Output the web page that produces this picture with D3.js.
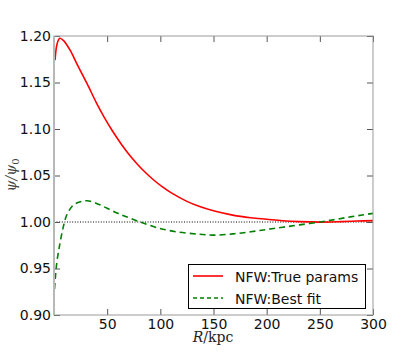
<!DOCTYPE html>
<html><head><meta charset="utf-8">
<script src="https://cdn.jsdelivr.net/npm/d3@7"></script>
<style>body{margin:0;background:#fff}svg{display:block}</style>
</head><body>
<svg id="c" width="415" height="363"></svg>
<script>
// ---- data ----
const rTrue = [1, 3, 5.5, 9, 15, 22, 31, 40, 47, 55, 63, 70, 78, 86, 94, 102, 110, 125, 137, 150, 168, 185, 200, 215, 231, 250, 270, 285, 300];
const psiTrue = [1.174, 1.192, 1.1975, 1.195, 1.185, 1.169, 1.149, 1.1279, 1.1131, 1.0978, 1.0842, 1.0735, 1.0627, 1.0532, 1.0449, 1.0377, 1.0316, 1.0222, 1.0166, 1.012, 1.0074, 1.0046, 1.003, 1.0014, 1.0004, 0.9999, 1.0004, 1.001, 1.0015];
const rFit = [0.5, 2.5, 5.6, 8.8, 12, 18, 24, 31, 40, 50, 60, 68, 81, 97, 115, 137, 150, 168, 185, 200, 215, 231, 250, 265, 278, 290, 300];
const psiFit = [0.928, 0.955, 0.977, 0.995, 1.0075, 1.018, 1.0215, 1.0229, 1.020, 1.0147, 1.0093, 1.0057, 1.0, 0.9939, 0.9895, 0.9868, 0.9859, 0.9872, 0.9895, 0.9919, 0.9944, 0.9969, 1.0, 1.0028, 1.0054, 1.0075, 1.0093];
const refLevel = [1.0];
const xTicks = [50, 100, 150, 200, 250, 300];
const yTicks = [0.90, 0.95, 1.00, 1.05, 1.10, 1.15, 1.20];
const legendLabels = ["NFW:True params", "NFW:Best fit"];

// ---- layout ----
const L = 54, R = 373, T = 36, B = 315;
const svg = d3.select("#c");
const x = d3.scaleLinear().domain([0, 300]).range([L, R]);
const y = d3.scaleLinear().domain([0.9, 1.2]).range([B, T]);
const font = "DejaVu Sans, sans-serif";

svg.append("clipPath").attr("id", "clip").append("rect")
  .attr("x", L).attr("y", T).attr("width", R - L).attr("height", B - T);

// ---- lines ----
const g = svg.append("g").attr("clip-path", "url(#clip)");
g.append("line").attr("x1", L).attr("x2", R)
  .attr("y1", y(refLevel[0])).attr("y2", y(refLevel[0]))
  .attr("stroke", "#000").attr("stroke-width", 1).attr("stroke-dasharray", "1,1.6");

const line = d3.line().curve(d3.curveCatmullRom.alpha(0.5));
g.append("path").attr("d", line(rTrue.map((r, i) => [x(r), y(psiTrue[i])])))
  .attr("fill", "none").attr("stroke", "#ff0000").attr("stroke-width", 1.6);
g.append("path").attr("d", line(rFit.map((r, i) => [x(r), y(psiFit[i])])))
  .attr("fill", "none").attr("stroke", "#008000").attr("stroke-width", 1.6)
  .attr("stroke-dasharray", "6,4");

// ---- axes (ticks inward) ----
const tickCol = "#555";
const axB = svg.append("g").attr("transform", `translate(0,${B})`)
  .call(d3.axisBottom(x).tickValues(xTicks).tickSizeInner(-6).tickSizeOuter(0).tickPadding(4).tickFormat(d3.format("d")));
const axT = svg.append("g").attr("transform", `translate(0,${T})`)
  .call(d3.axisTop(x).tickValues(xTicks).tickSizeInner(-6).tickSizeOuter(0).tickFormat(""));
const axL = svg.append("g").attr("transform", `translate(${L},0)`)
  .call(d3.axisLeft(y).tickValues(yTicks).tickSizeInner(-6).tickSizeOuter(0).tickPadding(3).tickFormat(d3.format(".2f")));
const axRt = svg.append("g").attr("transform", `translate(${R},0)`)
  .call(d3.axisRight(y).tickValues(yTicks).tickSizeInner(-6).tickSizeOuter(0).tickFormat(""));
[axB, axT, axL, axRt].forEach(a => {
  a.select(".domain").remove();
  a.selectAll(".tick line").attr("stroke", tickCol);
  a.selectAll("text").attr("font-family", font).attr("font-size", 14).attr("fill", "#111");
});

// spines
svg.append("rect").attr("x", L).attr("y", T).attr("width", R - L).attr("height", B - T)
  .attr("fill", "none").attr("stroke", "#999").attr("stroke-width", 1);
svg.append("line").attr("x1", L).attr("x2", L).attr("y1", T).attr("y2", B)
  .attr("stroke", "#b8b8b8").attr("stroke-width", 2);

// ---- axis labels ----
const xl = svg.append("text").attr("x", 213).attr("y", 342).attr("text-anchor", "middle")
  .attr("font-family", "DejaVu Serif, serif").attr("font-size", 14).attr("fill", "#222");
xl.append("tspan").attr("font-style", "italic").text("R");
xl.append("tspan").text("/kpc");

const yl = svg.append("text").attr("transform", "translate(16,175) rotate(-90)").attr("text-anchor", "middle")
  .attr("font-family", "DejaVu Serif, serif").attr("font-size", 14).attr("font-style", "italic").attr("fill", "#444");
yl.append("tspan").text("ψ/ψ");
yl.append("tspan").attr("font-size", 10).attr("font-style", "normal").attr("dy", 3).text("0");

// ---- legend ----
const lg = svg.append("g");
lg.append("rect").attr("x", 188.5).attr("y", 264.5).attr("width", 177).attr("height", 44)
  .attr("fill", "#fff").attr("stroke", "#000").attr("stroke-width", 1);
const styles = [{c: "#ff0000", d: null}, {c: "#008000", d: "4,3"}];
legendLabels.forEach((t, i) => {
  const yy = 276 + i * 22;
  lg.append("line").attr("x1", 193).attr("x2", 223).attr("y1", yy).attr("y2", yy)
    .attr("stroke", styles[i].c).attr("stroke-width", 1.6).attr("stroke-dasharray", styles[i].d);
  lg.append("text").attr("x", 235).attr("y", yy + 5.5).attr("font-family", font).attr("font-size", 14)
    .attr("fill", "#111").text(t);
});
</script>
</body></html>
